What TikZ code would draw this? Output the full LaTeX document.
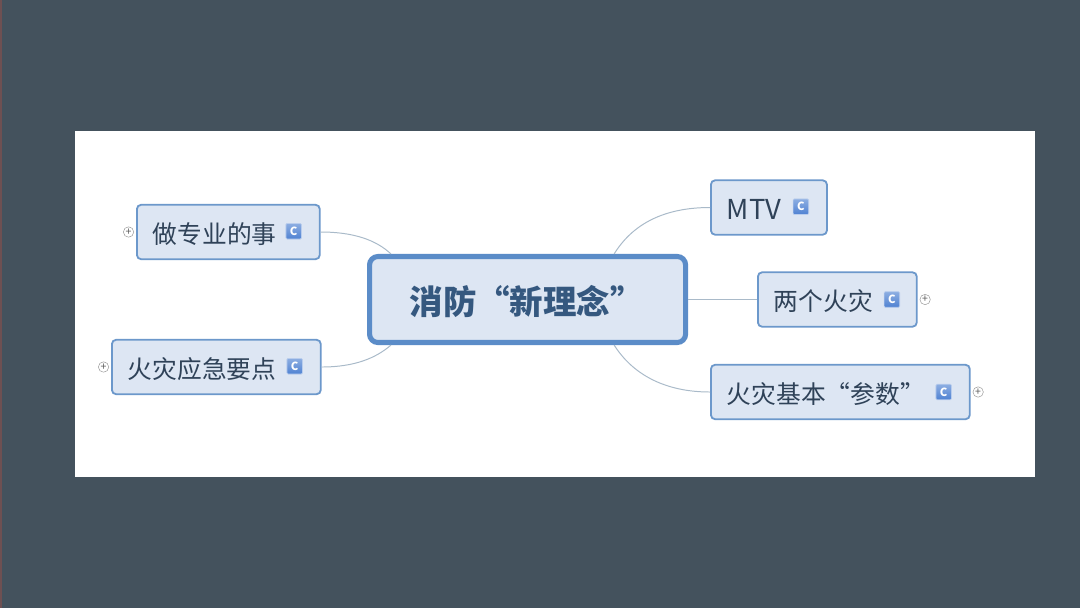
\documentclass[tikz,border=0pt]{standalone}
\usepackage{fontspec}
\setmainfont{Noto Sans CJK SC}
\usetikzlibrary{positioning}
\definecolor{slatebg}{HTML}{44525D}
\definecolor{edgered}{HTML}{6E5052}
\definecolor{boxfill}{HTML}{DDE6F3}
\definecolor{boxline}{HTML}{6C98CB}
\definecolor{rootline}{HTML}{5B8CC8}
\definecolor{inktext}{HTML}{2F4258}
\definecolor{roottext}{HTML}{35587F}
\definecolor{linkline}{HTML}{A9BAC9}
\definecolor{iconblue}{HTML}{4F82D2}
\tikzset{
    topicbox/.style={draw=boxline, line width=1.3pt, fill=boxfill, rounded corners=3pt,
        text=inktext, font=\fontsize{17.6}{20}\selectfont, align=left, anchor=west,
        inner xsep=0.4cm, inner ysep=0pt, minimum height=1.36cm, text height=17.6pt, text width=#1},
    iconbox/.style={draw=iconblue!40, line width=0.5pt, top color=iconblue!65, bottom color=iconblue,
        rounded corners=0.8pt, text=white, font=\fontsize{8}{8}\selectfont\bfseries,
        inner sep=0pt, minimum size=0.39cm},
    plusbox/.style={circle, draw=gray!80, line width=0.35pt, fill=white, text=gray!70!black,
        font=\fontsize{7.5}{7.5}\selectfont, inner sep=0pt, minimum size=0.26cm},
    linkline/.style={draw=linkline, line width=0.7pt}
}
\begin{document}
\begin{tikzpicture}[x=0.025cm, y=-0.025cm]
    \useasboundingbox (0,0) rectangle (1080,608);
    % BACKGROUND
    \fill[slatebg] (0,0) rectangle (1080,608);
    \fill[edgered] (0,0) rectangle (2,608);
    \fill[white] (75,131) rectangle (1035,477);
    % ROOT
    \node[draw=rootline, line width=3.6pt, fill=boxfill, rounded corners=6pt, text=roottext,
        font=\fontsize{23.8}{26}\selectfont\bfseries, align=left, anchor=west, inner xsep=1cm,
        inner ysep=0pt, minimum height=2.15cm, text height=24pt, text width=5.9cm] (root) at (367,299.5) {消防“新理念”};
    % LEFT
    \node[topicbox=3.77cm] (work) at (136,232) {做专业的事};
    \node[topicbox=4.42cm] (plan) at (111,367) {火灾应急要点};
    % RIGHT
    \node[topicbox=2.1cm, font=\fontsize{19.5}{20}\selectfont] (mtv) at (710,207.5) {MTV};
    \node[topicbox=3.17cm] (fires) at (757,299.5) {两个火灾};
    \node[topicbox=5.67cm] (params) at (710,392) {火灾基本“参数”};
    % ICONS
    \node[iconbox, left=0.47cm of work.east, yshift=0.02cm] (workicon) {C};
    \node[iconbox, left=0.47cm of plan.east, yshift=0.02cm] (planicon) {C};
    \node[iconbox, left=0.47cm of mtv.east, yshift=0.02cm] (mtvicon) {C};
    \node[iconbox, left=0.44cm of fires.east] (firesicon) {C};
    \node[iconbox, left=0.47cm of params.east] (paramsicon) {C};
    % PLUS
    \node[plusbox, left=0.05cm of work.west] (workplus) {+};
    \node[plusbox, left=0.05cm of plan.west] (planplus) {+};
    \node[plusbox, right=0.05cm of fires.east] (firesplus) {+};
    \node[plusbox, right=0.05cm of params.east] (paramsplus) {+};
    % LINKS
    \draw[linkline] (work.east) .. controls +(33,0) and +(-15,-14) .. ([xshift=0.6cm]root.north west);
    \draw[linkline] (plan.east) .. controls +(33,0) and +(-15,13) .. ([xshift=0.6cm]root.south west);
    \draw[linkline] (mtv.west) .. controls +(-40,0) and +(21,-34) .. ([xshift=-1.85cm]root.north east);
    \draw[linkline] (root.east) -- (fires.west);
    \draw[linkline] (params.west) .. controls +(-40,0) and +(21,33) .. ([xshift=-1.85cm]root.south east);
\end{tikzpicture}
\end{document}
